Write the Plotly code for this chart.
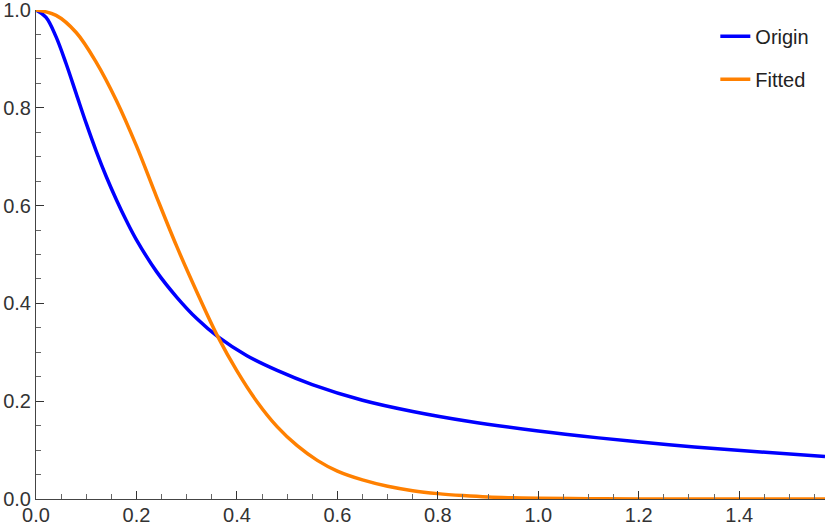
import numpy as np
import plotly.graph_objects as go

origin_x = [0, 0.02, 0.04, 0.06, 0.08, 0.10, 0.12, 0.14, 0.16, 0.18, 0.20, 0.24, 0.28, 0.32,
            0.362, 0.42, 0.48, 0.55, 0.65, 0.75, 0.86, 1.0, 1.12, 1.26, 1.39, 1.5708]
origin_y = [1.0, 0.985, 0.945, 0.890, 0.829, 0.768, 0.711, 0.659, 0.612, 0.569, 0.530, 0.465,
            0.413, 0.369, 0.332, 0.293, 0.263, 0.234, 0.202, 0.179, 0.159, 0.139, 0.125,
            0.111, 0.100, 0.087]

fitted_x = [0, 0.04, 0.08, 0.12, 0.16, 0.20, 0.24, 0.28, 0.32, 0.362, 0.40, 0.44, 0.48, 0.52,
            0.56, 0.60, 0.65, 0.70, 0.75, 0.80, 0.85, 0.90, 0.95, 1.0, 1.1, 1.2, 1.4, 1.5708]
fitted_y = [1.0, 0.989, 0.954, 0.893, 0.815, 0.722, 0.618, 0.517, 0.424, 0.332, 0.262, 0.199,
            0.148, 0.109, 0.079, 0.057, 0.039, 0.026, 0.017, 0.011, 0.007, 0.004, 0.0025,
            0.0015, 0.0005, 0.0, 0.0, 0.0]

x_ticks = [0.0, 0.2, 0.4, 0.6, 0.8, 1.0, 1.2, 1.4]
y_ticks = [0.0, 0.2, 0.4, 0.6, 0.8, 1.0]

FONT = "Liberation Sans, Arial, sans-serif"

fig = go.Figure()
fig.add_trace(go.Scatter(x=origin_x, y=origin_y, mode="lines", name="Origin",
                         legendgroup="a",
                         line=dict(color="#0000FF", width=3.5, shape="spline", smoothing=1.0)))
fig.add_trace(go.Scatter(x=fitted_x, y=fitted_y, mode="lines", name="Fitted",
                         legendgroup="b",
                         line=dict(color="#FF8000", width=3.5, shape="spline", smoothing=1.0)))

axis_common = dict(
    showgrid=False, zeroline=False, showline=True, linecolor="#444", linewidth=1,
    ticks="inside", ticklen=8, tickwidth=1, tickcolor="#333",
    tickfont=dict(family=FONT, size=20, color="#333"),
    tickformat=".1f", automargin=False, ticklabeloverflow="allow",
    minor=dict(ticks="inside", ticklen=5, tickwidth=1, tickcolor="#666", dtick=0.05),
)

fig.update_xaxes(range=[0, np.pi / 2], tickvals=x_ticks, ticklabelstandoff=-2, **axis_common)
fig.update_yaxes(range=[0, 1], tickvals=y_ticks, **axis_common)

fig.update_layout(
    width=830, height=527,
    margin=dict(l=36, r=5, t=10, b=28),
    plot_bgcolor="white", paper_bgcolor="white",
    showlegend=True,
    legend=dict(x=0.861, y=0.986, xanchor="left", yanchor="top",
                traceorder="grouped", tracegroupgap=14,
                bgcolor="rgba(0,0,0,0)",
                font=dict(family=FONT, size=20, color="#222")),
)

fig.write_html("out.html",
               config={"displayModeBar": False},
               post_script="document.body.style.margin='0';document.body.style.overflow='hidden';")
